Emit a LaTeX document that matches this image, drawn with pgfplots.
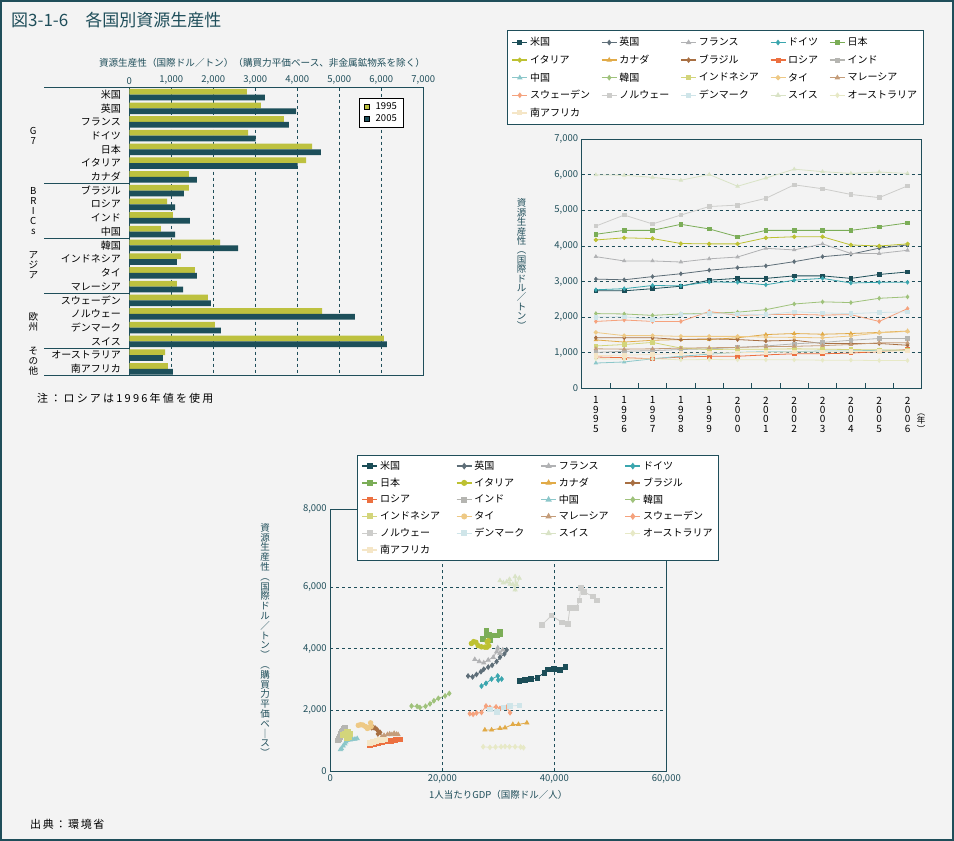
\documentclass[border=0pt]{standalone}
\usepackage{pgfplots}
\pgfplotsset{compat=1.18}
\usepackage{pgfplotstable}
\usepackage{fontspec}
\setmainfont{Noto Sans CJK JP}
\definecolor{tealc}{HTML}{1F4E5A}
\definecolor{bgc}{HTML}{F3F3F3}
\definecolor{c95}{HTML}{BDC13F}
\definecolor{c05}{HTML}{1D4F5A}
\definecolor{cUS}{HTML}{1B4D57}
\definecolor{cUK}{HTML}{5E6E78}
\definecolor{cFR}{HTML}{B1B2B4}
\definecolor{cDE}{HTML}{3AA6AE}
\definecolor{cJP}{HTML}{7BAD57}
\definecolor{cIT}{HTML}{BDC132}
\definecolor{cCA}{HTML}{E1AA47}
\definecolor{cBR}{HTML}{A86F42}
\definecolor{cRU}{HTML}{EC7040}
\definecolor{cIN}{HTML}{B5B5B1}
\definecolor{cCN}{HTML}{8CC7CA}
\definecolor{cKR}{HTML}{9FC27B}
\definecolor{cID}{HTML}{D3D57B}
\definecolor{cTH}{HTML}{EEC985}
\definecolor{cMY}{HTML}{C49C79}
\definecolor{cSE}{HTML}{F5A27D}
\definecolor{cNO}{HTML}{CDCDCB}
\definecolor{cDK}{HTML}{CFE5E9}
\definecolor{cCH}{HTML}{D9E3C6}
\definecolor{cAU}{HTML}{E7E9C6}
\definecolor{cZA}{HTML}{F5E6C7}

\pgfplotsset{
 base/.style={scale only axis, axis line style={tealc, line width=1.2pt},
  tick label style={text=tealc, font=\fontsize{9.5}{11}\selectfont},
  /pgf/number format/assume math mode=true, /pgf/number format/1000 sep={,},
  grid style={tealc, dashed, line width=0.8pt}, major tick length=0pt, scaled ticks=false,
  legend cell align=left},
 sUS/.style={color=cUS, mark=square*, line width=0.8pt},
 sUK/.style={color=cUK, mark=diamond*, line width=0.8pt},
 sFR/.style={color=cFR, mark=triangle*, line width=0.8pt},
 sDE/.style={color=cDE, mark=diamond*, line width=0.8pt},
 sJP/.style={color=cJP, mark=square*, line width=0.8pt},
 sIT/.style={color=cIT, mark=*, line width=0.8pt},
 sCA/.style={color=cCA, mark=triangle*, line width=0.8pt},
 sBR/.style={color=cBR, mark=diamond*, line width=0.8pt},
 sRU/.style={color=cRU, mark=square*, line width=0.8pt},
 sIN/.style={color=cIN, mark=square*, line width=0.8pt},
 sCN/.style={color=cCN, mark=triangle*, line width=0.8pt},
 sKR/.style={color=cKR, mark=diamond*, line width=0.8pt},
 sID/.style={color=cID, mark=square*, line width=0.8pt},
 sTH/.style={color=cTH, mark=*, line width=0.8pt},
 sMY/.style={color=cMY, mark=triangle*, line width=0.8pt},
 sSE/.style={color=cSE, mark=diamond*, line width=0.8pt},
 sNO/.style={color=cNO, mark=square*, line width=0.8pt},
 sDK/.style={color=cDK, mark=square*, line width=0.8pt},
 sCH/.style={color=cCH, mark=triangle*, line width=0.8pt},
 sAU/.style={color=cAU, mark=diamond*, line width=0.8pt},
 sZA/.style={color=cZA, mark=square*, line width=0.8pt},
 lineleg/.style={legend image code/.code={\draw[##1, line width=1.4pt, mark repeat=2, mark phase=2] plot coordinates {(0pt,0pt) (7.5pt,0pt) (15pt,0pt)};}},
}

\pgfplotstableread{
k a b
0 2800 3230
1 3135 3970
2 3680 3800
3 2830 3010
4 4350 4560
5 4210 4010
6 1420 1610
7 1420 1300
8 900 1090
9 1040 1440
10 750 1090
11 2160 2590
12 1230 1130
13 1560 1610
14 1130 1280
15 1870 1940
16 4590 5370
17 2040 2180
18 6060 6130
19 850 800
20 920 1040
}\bardata

\pgfplotstableread{
i US UK FR DE JP IT CA BR RU IN CN KR ID TH MY SE NO DK CH AU ZA
0 2740 3070 3700 2770 4330 4170 1360 1420 880 1010 710 2100 1190 1570 1110 1880 4560 2000 6000 830 920
1 2740 3050 3580 2800 4440 4230 1300 1420 860 1040 740 2090 1230 1480 1100 1920 4870 2010 5990 820 930
2 2800 3140 3580 2890 4440 4210 1350 1420 830 1060 830 2050 1290 1480 1110 1880 4620 1940 5930 830 950
3 2870 3220 3550 2880 4610 4070 1370 1370 880 1090 900 2090 1130 1460 1130 1880 4870 2070 5850 800 980
4 3040 3320 3640 2990 4480 4060 1370 1390 900 1110 960 2110 1090 1460 1140 2160 5110 2100 6010 810 990
5 3090 3390 3690 2980 4260 4060 1420 1370 900 1150 1010 2140 1100 1460 1150 2050 5150 2090 5680 800 1000
6 3090 3440 3935 2910 4440 4230 1510 1330 940 1190 1030 2210 1100 1440 1170 2070 5340 2070 5910 800 1010
7 3160 3560 3890 3040 4440 4260 1540 1350 970 1250 1030 2370 1110 1430 1180 2080 5720 2150 6160 800 1020
8 3160 3700 4060 3090 4440 4260 1520 1260 970 1290 1050 2430 1100 1420 1200 2060 5610 2120 6090 790 1020
9 3090 3770 3790 2960 4440 4030 1540 1260 990 1350 1050 2410 1090 1470 1230 2070 5450 2100 6040 790 1030
10 3200 3940 3790 2980 4540 4000 1570 1260 1030 1400 1070 2530 1080 1560 1280 1880 5360 2130 6080 780 1040
11 3270 4030 3880 2980 4650 4060 1610 1210 1090 1400 1070 2570 1070 1600 1280 2240 5690 2150 6040 780 1050
}\linedata

\begin{document}
\begin{tikzpicture}[x=1pt,y=1pt]
\fill[bgc] (0pt,0pt) rectangle (954pt,841pt);
\draw[tealc, line width=2pt] (1pt,1pt) rectangle (953pt,840pt);
\node[anchor=west, text=tealc, font=\fontsize{17}{19}\selectfont, inner sep=0pt] at (11pt,821pt) {図3-1-6　各国別資源生産性};

% ---------------- bar chart ----------------
\node[text=tealc, font=\fontsize{9.6}{11}\selectfont, inner sep=0pt] at (262pt,778.3pt) {資源生産性（国際ドル／トン）（購買力平価ベース、非金属鉱物系を除く）};
\begin{axis}[base, at={(129.3pt,465.3pt)}, anchor=south west, width=294pt, height=288pt,
 xbar, bar width=0.42, xmin=0, xmax=7000, ymin=-0.5, ymax=20.5, y dir=reverse,
 xtick={0,1000,...,7000}, xticklabel pos=right, xmajorgrids,
 ytick={0,...,20},
 yticklabels={米国,英国,フランス,ドイツ,日本,イタリア,カナダ,ブラジル,ロシア,インド,中国,韓国,インドネシア,タイ,マレーシア,スウェーデン,ノルウェー,デンマーク,スイス,オーストラリア,南アフリカ},
 y tick label style={text=black, font=\fontsize{10}{12}\selectfont, xshift=-5pt},
 legend style={at={(0.781,0.964)}, anchor=north west, draw=black, line width=0.8pt, fill=white,
   font=\fontsize{9.5}{11}\selectfont, inner xsep=5pt, inner ysep=2pt, row sep=0pt,
   /tikz/every odd column/.append style={column sep=4pt}},
 legend image code/.code={\draw[#1,draw=black,line width=0.4pt] (0pt,-2.5pt) rectangle (5pt,2.5pt);},
]
\addplot[fill=c95, draw=none, bar shift=-0.21] table[x=a, y=k] {\bardata};
\addplot[fill=c05, draw=none, bar shift=0.21] table[x=b, y=k] {\bardata};
\legend{1995,2005}
\end{axis}
\foreach \yy in {753.3,657.3,602.4,547.6,492.7,465.3} {\draw[tealc, line width=1.2pt] (44pt,\yy pt) -- (129.3pt,\yy pt);}
\begin{scope}[every node/.style={align=center, font=\fontsize{9.6}{9.8}\selectfont, inner sep=0pt}]
\node at (33.3pt,705pt) {G\\7};
\node at (33.3pt,630pt) {B\\R\\I\\C\\s};
\node at (33.3pt,576pt) {ア\\ジ\\ア};
\node at (33.3pt,519pt) {欧\\州};
\node at (33.3pt,480pt) {そ\\の\\他};
\end{scope}
\node[anchor=west, font=\fontsize{11}{12}\selectfont\addfontfeature{LetterSpace=20}, inner sep=0pt] at (37pt,443pt) {注：ロシアは1996年値を使用};

% ---------------- line chart ----------------
\node[text=tealc, align=center, font=\fontsize{9.5}{9.4}\selectfont, inner sep=0pt] at (521.7pt,577pt) {資\\源\\生\\産\\性\\︵\\国\\際\\ド\\ル\\／\\ト\\ン\\︶};
\begin{axis}[base, lineleg, at={(581.7pt,452.7pt)}, anchor=south west, width=340pt, height=249pt,
 xmin=-0.5, xmax=11.5, ymin=0, ymax=7000, ytick={0,1000,...,7000}, ymajorgrids,
 xtick={0,...,11},
 xticklabels={{1\\9\\9\\5},{1\\9\\9\\6},{1\\9\\9\\7},{1\\9\\9\\8},{1\\9\\9\\9},{2\\0\\0\\0},{2\\0\\0\\1},{2\\0\\0\\2},{2\\0\\0\\3},{2\\0\\0\\4},{2\\0\\0\\5},{2\\0\\0\\6}},
 x tick label style={align=center, text=black, font=\fontsize{10}{9.4}\selectfont, yshift=-5pt},
 extra x ticks={0.5,1.5,...,10.5}, extra x tick labels={},
 extra x tick style={major tick length=5pt, tick align=inside, tick style={tealc, line width=1pt}},
 tick pos=left,
 every axis plot/.append style={mark size=1.8pt},
 legend columns=5,
 legend style={at={(-0.2197,1.439)}, anchor=north west, draw=tealc, line width=1.2pt, fill=white,
   font=\fontsize{10}{12}\selectfont, inner xsep=4pt, inner ysep=5pt, row sep=3.6pt,
   /tikz/every even column/.append style={column sep=9pt}},
]
\addplot[sUS] table[x=i,y=US] {\linedata}; \addlegendentry{米国}
\addplot[sUK] table[x=i,y=UK] {\linedata}; \addlegendentry{英国}
\addplot[sFR] table[x=i,y=FR] {\linedata}; \addlegendentry{フランス}
\addplot[sDE] table[x=i,y=DE] {\linedata}; \addlegendentry{ドイツ}
\addplot[sJP] table[x=i,y=JP] {\linedata}; \addlegendentry{日本}
\addplot[sIT] table[x=i,y=IT] {\linedata}; \addlegendentry{イタリア}
\addplot[sCA] table[x=i,y=CA] {\linedata}; \addlegendentry{カナダ}
\addplot[sBR] table[x=i,y=BR] {\linedata}; \addlegendentry{ブラジル}
\addplot[sRU] table[x=i,y=RU] {\linedata}; \addlegendentry{ロシア}
\addplot[sIN] table[x=i,y=IN] {\linedata}; \addlegendentry{インド}
\addplot[sCN] table[x=i,y=CN] {\linedata}; \addlegendentry{中国}
\addplot[sKR] table[x=i,y=KR] {\linedata}; \addlegendentry{韓国}
\addplot[sID] table[x=i,y=ID] {\linedata}; \addlegendentry{インドネシア}
\addplot[sTH] table[x=i,y=TH] {\linedata}; \addlegendentry{タイ}
\addplot[sMY] table[x=i,y=MY] {\linedata}; \addlegendentry{マレーシア}
\addplot[sSE] table[x=i,y=SE] {\linedata}; \addlegendentry{スウェーデン}
\addplot[sNO] table[x=i,y=NO] {\linedata}; \addlegendentry{ノルウェー}
\addplot[sDK] table[x=i,y=DK] {\linedata}; \addlegendentry{デンマーク}
\addplot[sCH] table[x=i,y=CH] {\linedata}; \addlegendentry{スイス}
\addplot[sAU] table[x=i,y=AU] {\linedata}; \addlegendentry{オーストラリア}
\addplot[sZA] table[x=i,y=ZA] {\linedata}; \addlegendentry{南アフリカ}
\end{axis}
\node[align=center, font=\fontsize{8.5}{8.5}\selectfont, inner sep=0pt] at (921pt,418pt) {︵\\年\\︶};

% ---------------- scatter ----------------
\node[text=tealc, align=center, font=\fontsize{9.5}{9.8}\selectfont, inner sep=0pt] at (265pt,201pt) {資\\源\\生\\産\\性\\︵\\国\\際\\ド\\ル\\／\\ト\\ン\\︶\\︵\\購\\買\\力\\平\\価\\ベ\\｜\\ス\\︶};
\begin{axis}[base, lineleg, at={(330.3pt,69.7pt)}, anchor=south west, width=336pt, height=262pt,
 xmin=0, xmax=60000, ymin=0, ymax=8548, xtick={0,20000,40000,60000}, ytick={0,2000,4000,6000},
 extra y ticks={8548}, extra y tick labels={8{,}000}, extra y tick style={grid=none},
 xmajorgrids, ymajorgrids,
 xlabel={1人当たりGDP（国際ドル／人）},
 xlabel style={text=tealc, font=\fontsize{9.5}{11}\selectfont, at={(axis description cs:0.5,-0.0905)}, anchor=center},
 every axis plot/.append style={mark size=2.3pt},
 legend columns=4,
 legend style={at={(0.0795,1.207)}, anchor=north west, draw=tealc, line width=1.2pt, fill=white,
   font=\fontsize{10}{12}\selectfont, inner xsep=4pt, inner ysep=3.5pt, row sep=2.8pt,
   /tikz/every even column/.append style={column sep=14pt}},
]
\addplot[sUS] coordinates {(33750,2950)(34800,2980)(35800,3010)(37000,3050)(38200,3220)(38900,3330)(39900,3350)(41000,3300)(42000,3410)}; \addlegendentry{米国}
\addplot[sUK] coordinates {(24600,3110)(25400,3080)(26100,3160)(26900,3250)(27400,3330)(28200,3400)(28900,3460)(29700,3580)(30300,3720)(31100,3830)(31500,3960)}; \addlegendentry{英国}
\addplot[sFR] coordinates {(25800,3650)(26600,3580)(27400,3540)(28200,3630)(29100,3720)(29700,3900)(29900,4030)(30300,3850)(30800,3960)}; \addlegendentry{フランス}
\addplot[sDE] coordinates {(27000,2780)(27800,2870)(28800,3010)(29900,3110)(30000,2980)(30600,3010)}; \addlegendentry{ドイツ}
\addplot[sJP] coordinates {(27300,4310)(27900,4440)(28200,4440)(27900,4580)(28400,4460)(28600,4280)(28900,4440)(29400,4440)(29800,4440)(30300,4480)(30300,4550)}; \addlegendentry{日本}
\addplot[sIT] coordinates {(25200,4170)(25600,4230)(26000,4210)(26400,4100)(27000,4060)(27600,4050)(28000,4230)(28200,4260)(28300,4100)(28000,4050)}; \addlegendentry{イタリア}
\addplot[sCA] coordinates {(27600,1350)(28800,1350)(30300,1400)(31200,1420)(32600,1530)(33600,1530)(35100,1580)}; \addlegendentry{カナダ}
\addplot[sBR] coordinates {(7400,1420)(7700,1430)(8000,1410)(8300,1370)(8600,1300)(8900,1270)(8500,1220)}; \addlegendentry{ブラジル}
\addplot[sRU] coordinates {(7100,860)(7800,880)(8500,920)(9300,940)(10000,970)(10800,990)(11600,1020)(12400,1040)}; \addlegendentry{ロシア}
\addplot[sIN] coordinates {(1400,1010)(1500,1050)(1600,1080)(1700,1120)(1800,1160)(1900,1220)(2000,1280)(2200,1330)(2400,1390)(2600,1430)}; \addlegendentry{インド}
\addplot[sCN] coordinates {(1800,710)(2000,740)(2300,830)(2600,900)(2800,960)(3000,1010)(3300,1030)(3600,1030)(4000,1050)(4400,1050)(4800,1070)}; \addlegendentry{中国}
\addplot[sKR] coordinates {(14500,2130)(15500,2120)(16000,2080)(17000,2120)(17800,2200)(18500,2300)(19300,2380)(20500,2460)(21250,2540)}; \addlegendentry{韓国}
\addplot[sID] coordinates {(2300,1190)(2600,1230)(2900,1290)(3200,1280)(3500,1220)(3400,1120)(3000,1090)(3300,1100)}; \addlegendentry{インドネシア}
\addplot[sTH] coordinates {(5000,1500)(5400,1520)(5800,1510)(6300,1460)(6600,1400)(6900,1420)(7300,1460)(7200,1580)}; \addlegendentry{タイ}
\addplot[sMY] coordinates {(9200,1130)(9600,1170)(10200,1200)(10600,1220)(11000,1200)(11400,1240)(11800,1210)(12100,1200)}; \addlegendentry{マレーシア}
\addplot[sSE] coordinates {(24900,1880)(25500,1860)(26100,1900)(27000,1920)(27800,2130)(28500,2080)(29600,2100)(30300,2050)(31500,2090)(32100,1910)}; \addlegendentry{スウェーデン}
\addplot[sNO] coordinates {(37750,4770)(39500,5080)(41400,4860)(42400,4800)(42800,5340)(43900,5340)(44500,5570)(44700,5990)(45250,5860)(46900,5700)(47600,5570)}; \addlegendentry{ノルウェー}
\addplot[sDK] coordinates {(28500,2020)(29700,1930)(30900,2090)(32100,2130)(33750,2150)}; \addlegendentry{デンマーク}
\addplot[sCH] coordinates {(30300,6220)(30900,6150)(31500,6180)(32000,6260)(32100,6110)(32600,6100)(33000,5920)(33000,6350)(33300,6080)(33750,6300)}; \addlegendentry{スイス}
\addplot[sAU] coordinates {(27300,800)(28500,780)(29500,790)(30500,800)(31200,810)(32000,800)(33000,800)(34000,790)(34500,770)}; \addlegendentry{オーストラリア}
\addplot[sZA] coordinates {(7100,930)(7600,960)(8200,1000)(8800,1020)(9300,1030)(9800,1040)}; \addlegendentry{南アフリカ}
\end{axis}

\node[anchor=west, font=\fontsize{11}{12}\selectfont\addfontfeature{LetterSpace=15}, inner sep=0pt] at (30pt,17pt) {出典：環境省};
\end{tikzpicture}
\end{document}
